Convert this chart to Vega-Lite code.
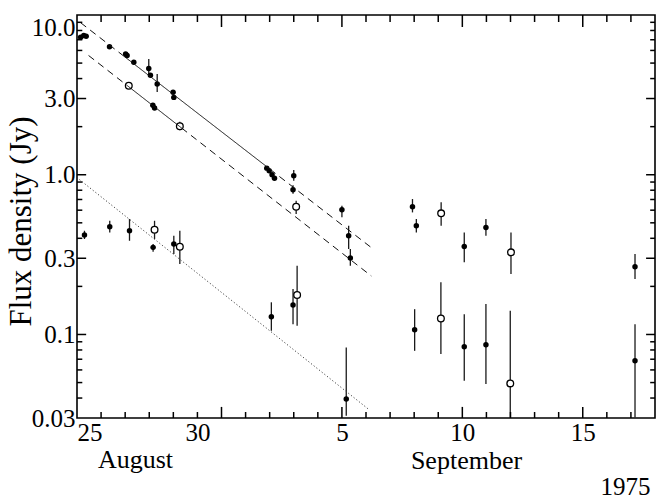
{
  "$schema": "https://vega.github.io/schema/vega-lite/v6.json",
  "width": 578,
  "height": 403,
  "autosize": {"type": "none"},
  "padding": {"left": 77, "top": 15, "right": 4, "bottom": 82},
  "background": "white",
  "config": {
    "font": "Liberation Serif",
    "view": {"stroke": "black", "strokeWidth": 1.6},
    "axis": {
      "domain": false,
      "grid": false,
      "ticks": false,
      "tickSize": 0,
      "labelFont": "Liberation Serif",
      "labelFontSize": 25,
      "labelColor": "black",
      "labelOverlap": false,
      "labelBound": false,
      "titleFont": "Liberation Serif",
      "titleColor": "black",
      "titleFontWeight": "normal",
      "titleFontSize": 26
    }
  },
  "datasets": {
    "points": [
      {"day": 25.15, "flux": 7.25, "symbol": "filled"},
      {"day": 25.28, "flux": 7.45, "symbol": "filled"},
      {"day": 25.38, "flux": 7.35, "symbol": "filled"},
      {"day": 26.35, "flux": 6.33, "symbol": "filled"},
      {"day": 27.02, "flux": 5.7, "symbol": "filled"},
      {"day": 27.08, "flux": 5.58, "symbol": "filled"},
      {"day": 27.36, "flux": 5.06, "symbol": "filled"},
      {"day": 27.98, "flux": 4.62, "lo": 4.09, "hi": 5.3, "symbol": "filled"},
      {"day": 28.05, "flux": 4.2, "symbol": "filled"},
      {"day": 28.33, "flux": 3.7, "lo": 3.29, "hi": 4.27, "symbol": "filled"},
      {"day": 28.99, "flux": 3.28, "symbol": "filled"},
      {"day": 29.02, "flux": 3.05, "symbol": "filled"},
      {"day": 32.88, "flux": 1.1, "symbol": "filled"},
      {"day": 32.98, "flux": 1.06, "symbol": "filled"},
      {"day": 33.1, "flux": 1.0, "symbol": "filled"},
      {"day": 33.2, "flux": 0.95, "symbol": "filled"},
      {"day": 34.0, "flux": 0.986, "lo": 0.917, "hi": 1.07, "symbol": "filled"},
      {"day": 33.97, "flux": 0.805, "lo": 0.76, "hi": 0.86, "symbol": "filled"},
      {"day": 36.0, "flux": 0.6035, "lo": 0.541, "hi": 0.64, "symbol": "filled"},
      {"day": 36.28, "flux": 0.415, "lo": 0.3425, "hi": 0.479, "symbol": "filled"},
      {"day": 36.35, "flux": 0.301, "lo": 0.269, "hi": 0.3425, "symbol": "filled"},
      {"day": 28.15, "flux": 2.72, "symbol": "filled"},
      {"day": 28.22, "flux": 2.62, "symbol": "filled"},
      {"day": 25.31, "flux": 0.419, "lo": 0.396, "hi": 0.446, "symbol": "filled"},
      {"day": 26.36, "flux": 0.4726, "lo": 0.4356, "hi": 0.515, "symbol": "filled"},
      {"day": 27.18, "flux": 0.446, "lo": 0.386, "hi": 0.528, "symbol": "filled"},
      {"day": 28.16, "flux": 0.351, "lo": 0.3295, "hi": 0.368, "symbol": "filled"},
      {"day": 29.02, "flux": 0.368, "lo": 0.3187, "hi": 0.415, "symbol": "filled"},
      {"day": 33.07, "flux": 0.129, "lo": 0.1055, "hi": 0.159, "symbol": "filled"},
      {"day": 33.97, "flux": 0.1528, "lo": 0.116, "hi": 0.1925, "symbol": "filled"},
      {"day": 36.18, "flux": 0.0394, "lo": 0.031, "hi": 0.083, "symbol": "filled"},
      {"day": 38.93, "flux": 0.63, "lo": 0.581, "hi": 0.7045, "symbol": "filled"},
      {"day": 39.09, "flux": 0.479, "lo": 0.4356, "hi": 0.528, "symbol": "filled"},
      {"day": 41.08, "flux": 0.356, "lo": 0.283, "hi": 0.4356, "symbol": "filled"},
      {"day": 41.98, "flux": 0.468, "lo": 0.415, "hi": 0.528, "symbol": "filled"},
      {"day": 39.02, "flux": 0.107, "lo": 0.079, "hi": 0.144, "symbol": "filled"},
      {"day": 41.08, "flux": 0.0837, "lo": 0.0513, "hi": 0.134, "symbol": "filled"},
      {"day": 41.98, "flux": 0.0862, "lo": 0.0489, "hi": 0.155, "symbol": "filled"},
      {"day": 48.17, "flux": 0.2655, "lo": 0.2223, "hi": 0.3187, "symbol": "filled"},
      {"day": 48.17, "flux": 0.0684, "lo": 0.0302, "hi": 0.116, "symbol": "filled"},
      {"day": 27.15, "flux": 3.61, "lo": 3.45, "hi": 3.78, "symbol": "open"},
      {"day": 29.27, "flux": 2.01, "lo": 1.9, "hi": 2.15, "symbol": "open"},
      {"day": 28.22, "flux": 0.452, "lo": 0.396, "hi": 0.515, "symbol": "open"},
      {"day": 29.27, "flux": 0.354, "lo": 0.276, "hi": 0.446, "symbol": "open"},
      {"day": 34.1, "flux": 0.63, "lo": 0.5675, "hi": 0.6875, "symbol": "open"},
      {"day": 34.14, "flux": 0.1765, "lo": 0.1133, "hi": 0.269, "symbol": "open"},
      {"day": 40.12, "flux": 0.573, "lo": 0.479, "hi": 0.672, "symbol": "open"},
      {"day": 43.02, "flux": 0.3266, "lo": 0.239, "hi": 0.4356, "symbol": "open"},
      {"day": 40.11, "flux": 0.126, "lo": 0.0754, "hi": 0.212, "symbol": "open"},
      {"day": 42.99, "flux": 0.0494, "lo": 0.03, "hi": 0.1407, "symbol": "open"}
    ],
    "fits": [
      {"seg": "A1", "part": "extrapolated", "day": 25.15, "flux": 8.95},
      {"seg": "A1", "part": "extrapolated", "day": 26.93, "flux": 5.55},
      {"seg": "A2", "part": "fit", "day": 26.93, "flux": 5.55},
      {"seg": "A2", "part": "fit", "day": 33.01, "flux": 1.084},
      {"seg": "A3", "part": "extrapolated", "day": 33.01, "flux": 1.084},
      {"seg": "A3", "part": "extrapolated", "day": 37.3, "flux": 0.3425},
      {"seg": "B1", "part": "extrapolated", "day": 25.48, "flux": 5.58},
      {"seg": "B1", "part": "extrapolated", "day": 27.1, "flux": 3.602},
      {"seg": "B2", "part": "fit", "day": 27.1, "flux": 3.602},
      {"seg": "B2", "part": "fit", "day": 29.34, "flux": 1.963},
      {"seg": "B3", "part": "extrapolated", "day": 29.34, "flux": 1.963},
      {"seg": "B3", "part": "extrapolated", "day": 37.22, "flux": 0.2324},
      {"seg": "C1", "part": "trend", "day": 25.1, "flux": 0.933},
      {"seg": "C1", "part": "trend", "day": 37.1, "flux": 0.0341}
    ],
    "xticks": [
      {"day": 26, "kind": "minor"}, {"day": 27, "kind": "minor"}, {"day": 28, "kind": "minor"},
      {"day": 29, "kind": "minor"}, {"day": 30, "kind": "minor"}, {"day": 31, "kind": "major"},
      {"day": 32, "kind": "minor"}, {"day": 33, "kind": "minor"}, {"day": 34, "kind": "minor"},
      {"day": 35, "kind": "minor"}, {"day": 36, "kind": "major"}, {"day": 37, "kind": "minor"},
      {"day": 38, "kind": "minor"}, {"day": 39, "kind": "minor"}, {"day": 40, "kind": "minor"},
      {"day": 41, "kind": "major"}, {"day": 42, "kind": "minor"}, {"day": 43, "kind": "minor"},
      {"day": 44, "kind": "minor"}, {"day": 45, "kind": "minor"}, {"day": 46, "kind": "major"},
      {"day": 47, "kind": "minor"}, {"day": 48, "kind": "minor"}
    ],
    "yticks": [
      {"flux": 0.04, "kind": "minor"}, {"flux": 0.05, "kind": "minor"}, {"flux": 0.06, "kind": "minor"},
      {"flux": 0.07, "kind": "minor"}, {"flux": 0.08, "kind": "minor"}, {"flux": 0.09, "kind": "minor"},
      {"flux": 0.1, "kind": "major"}, {"flux": 0.2, "kind": "minor"}, {"flux": 0.3, "kind": "major"},
      {"flux": 0.4, "kind": "minor"}, {"flux": 0.5, "kind": "minor"}, {"flux": 0.6, "kind": "minor"},
      {"flux": 0.7, "kind": "minor"}, {"flux": 0.8, "kind": "minor"}, {"flux": 0.9, "kind": "minor"},
      {"flux": 1, "kind": "major"}, {"flux": 2, "kind": "minor"}, {"flux": 3, "kind": "major"},
      {"flux": 4, "kind": "minor"}, {"flux": 5, "kind": "minor"}, {"flux": 6, "kind": "minor"},
      {"flux": 7, "kind": "minor"}, {"flux": 8, "kind": "minor"}, {"flux": 9, "kind": "minor"}
    ]
  },
  "resolve": {"axis": {"x": "independent", "y": "independent"}},
  "layer": [
    {
      "data": {"name": "points"},
      "transform": [{"filter": "isValid(datum.lo)"}],
      "mark": {"type": "rule", "color": "#1a1a1a", "strokeWidth": 1.3},
      "encoding": {
        "x": {
          "field": "day", "type": "quantitative",
          "scale": {"domain": [25, 49], "nice": false, "zero": false},
          "axis": {
            "orient": "bottom",
            "values": [25, 30, 36, 41, 46],
            "labelExpr": "datum.value == 25 ? '25' : datum.value == 30 ? '30' : datum.value == 36 ? '5' : datum.value == 41 ? '10' : '15'",
            "labelPadding": 2,
            "labelAlign": {"condition": {"test": "datum.value == 25", "value": "left"}, "value": "center"},
            "labelBaseline": "top",
            "title": "August",
            "titleAngle": 0,
            "titleAlign": "center",
            "titleBaseline": "alphabetic",
            "titleX": 58,
            "titleY": 49
          }
        },
        "y": {
          "field": "lo", "type": "quantitative",
          "scale": {"type": "log", "domain": [0.03, 10], "nice": false},
          "axis": {
            "orient": "left",
            "values": [0.03, 0.1, 0.3, 1, 3, 10],
            "labelPadding": 2,
            "labelExpr": "datum.value == 10 ? '10.0' : datum.value == 3 ? '3.0' : datum.value == 1 ? '1.0' : datum.value == 0.3 ? '0.3' : datum.value == 0.1 ? '0.1' : '0.03'",
            "labelBaseline": {"condition": {"test": "datum.value == 10", "value": "top"}, "value": "middle"},
            "title": "Flux density (Jy)",
            "titleFontSize": 31,
            "titleAngle": -90,
            "titleAlign": "center",
            "titleX": -56,
            "titleY": 206,
            "titleBaseline": "middle"
          }
        },
        "y2": {"field": "hi"}
      }
    },
    {
      "data": {"name": "points"},
      "transform": [{"filter": "datum.symbol == 'filled'"}],
      "mark": {"type": "point", "shape": "circle", "filled": true, "color": "black", "size": 30, "opacity": 1},
      "encoding": {
        "x": {
          "field": "day", "type": "quantitative",
          "scale": {"domain": [25, 49], "nice": false, "zero": false},
          "axis": {
            "orient": "top",
            "values": [30],
            "labels": false,
            "title": "September",
            "titleAngle": 0,
            "titleAlign": "center",
            "titleBaseline": "alphabetic",
            "titleX": 389,
            "titleY": 453
          }
        },
        "y": {
          "field": "flux", "type": "quantitative",
          "scale": {"type": "log", "domain": [0.03, 10], "nice": false},
          "axis": null
        }
      }
    },
    {
      "data": {"name": "points"},
      "transform": [{"filter": "datum.symbol == 'open'"}],
      "mark": {"type": "point", "shape": "circle", "filled": true, "fill": "white", "stroke": "black", "strokeWidth": 1.3, "size": 45, "opacity": 1},
      "encoding": {
        "x": {
          "field": "day", "type": "quantitative",
          "scale": {"domain": [25, 49], "nice": false, "zero": false},
          "axis": {
            "orient": "top",
            "values": [30],
            "labels": false,
            "title": "1975",
            "titleFontSize": 25,
            "titleAngle": 0,
            "titleAlign": "center",
            "titleBaseline": "alphabetic",
            "titleX": 548,
            "titleY": 479
          }
        },
        "y": {
          "field": "flux", "type": "quantitative",
          "scale": {"type": "log", "domain": [0.03, 10], "nice": false},
          "axis": null
        }
      }
    },
    {
      "data": {"name": "fits"},
      "mark": {"type": "line", "strokeWidth": 1},
      "encoding": {
        "x": {"field": "day", "type": "quantitative", "scale": {"domain": [25, 49], "nice": false, "zero": false}, "axis": null},
        "y": {"field": "flux", "type": "quantitative", "scale": {"type": "log", "domain": [0.03, 10], "nice": false}, "axis": null},
        "detail": {"field": "seg"},
        "strokeDash": {
          "field": "part", "type": "nominal",
          "scale": {"domain": ["fit", "extrapolated", "trend"], "range": [[1, 0], [7, 5], [1.2, 2.2]]},
          "legend": null
        },
        "color": {
          "field": "part", "type": "nominal",
          "scale": {"domain": ["fit", "extrapolated", "trend"], "range": ["#111111", "#111111", "#444444"]},
          "legend": null
        }
      }
    },
    {
      "data": {"name": "xticks"},
      "transform": [{"filter": "datum.kind == 'minor'"}],
      "mark": {"type": "rule", "color": "black", "strokeWidth": 1.5},
      "encoding": {
        "x": {"field": "day", "type": "quantitative", "scale": {"domain": [25, 49], "nice": false, "zero": false}, "axis": null},
        "y": {"datum": 0.03, "type": "quantitative", "scale": {"type": "log", "domain": [0.03, 10], "nice": false}, "axis": null},
        "y2": {"datum": 0.0327}
      }
    },
    {
      "data": {"name": "xticks"},
      "transform": [{"filter": "datum.kind == 'major'"}],
      "mark": {"type": "rule", "color": "black", "strokeWidth": 1.5},
      "encoding": {
        "x": {"field": "day", "type": "quantitative", "scale": {"domain": [25, 49], "nice": false, "zero": false}, "axis": null},
        "y": {"datum": 0.03, "type": "quantitative", "scale": {"type": "log", "domain": [0.03, 10], "nice": false}, "axis": null},
        "y2": {"datum": 0.0352}
      }
    },
    {
      "data": {"name": "xticks"},
      "transform": [{"filter": "datum.kind == 'minor'"}],
      "mark": {"type": "rule", "color": "black", "strokeWidth": 1.5},
      "encoding": {
        "x": {"field": "day", "type": "quantitative", "scale": {"domain": [25, 49], "nice": false, "zero": false}, "axis": null},
        "y": {"datum": 10, "type": "quantitative", "scale": {"type": "log", "domain": [0.03, 10], "nice": false}, "axis": null},
        "y2": {"datum": 9.04}
      }
    },
    {
      "data": {"name": "xticks"},
      "transform": [{"filter": "datum.kind == 'major'"}],
      "mark": {"type": "rule", "color": "black", "strokeWidth": 1.5},
      "encoding": {
        "x": {"field": "day", "type": "quantitative", "scale": {"domain": [25, 49], "nice": false, "zero": false}, "axis": null},
        "y": {"datum": 10, "type": "quantitative", "scale": {"type": "log", "domain": [0.03, 10], "nice": false}, "axis": null},
        "y2": {"datum": 8.41}
      }
    },
    {
      "data": {"name": "yticks"},
      "transform": [{"filter": "datum.kind == 'minor'"}],
      "mark": {"type": "rule", "color": "black", "strokeWidth": 1.5},
      "encoding": {
        "y": {"field": "flux", "type": "quantitative", "scale": {"type": "log", "domain": [0.03, 10], "nice": false}, "axis": null},
        "x": {"datum": 25, "type": "quantitative", "scale": {"domain": [25, 49], "nice": false, "zero": false}, "axis": null},
        "x2": {"datum": 25.22}
      }
    },
    {
      "data": {"name": "yticks"},
      "transform": [{"filter": "datum.kind == 'major'"}],
      "mark": {"type": "rule", "color": "black", "strokeWidth": 1.5},
      "encoding": {
        "y": {"field": "flux", "type": "quantitative", "scale": {"type": "log", "domain": [0.03, 10], "nice": false}, "axis": null},
        "x": {"datum": 25, "type": "quantitative", "scale": {"domain": [25, 49], "nice": false, "zero": false}, "axis": null},
        "x2": {"datum": 25.38}
      }
    },
    {
      "data": {"name": "yticks"},
      "transform": [{"filter": "datum.kind == 'minor'"}],
      "mark": {"type": "rule", "color": "black", "strokeWidth": 1.5},
      "encoding": {
        "y": {"field": "flux", "type": "quantitative", "scale": {"type": "log", "domain": [0.03, 10], "nice": false}, "axis": null},
        "x": {"datum": 49, "type": "quantitative", "scale": {"domain": [25, 49], "nice": false, "zero": false}, "axis": null},
        "x2": {"datum": 48.8}
      }
    },
    {
      "data": {"name": "yticks"},
      "transform": [{"filter": "datum.kind == 'major'"}],
      "mark": {"type": "rule", "color": "black", "strokeWidth": 1.5},
      "encoding": {
        "y": {"field": "flux", "type": "quantitative", "scale": {"type": "log", "domain": [0.03, 10], "nice": false}, "axis": null},
        "x": {"datum": 49, "type": "quantitative", "scale": {"domain": [25, 49], "nice": false, "zero": false}, "axis": null},
        "x2": {"datum": 48.63}
      }
    }
  ]
}
